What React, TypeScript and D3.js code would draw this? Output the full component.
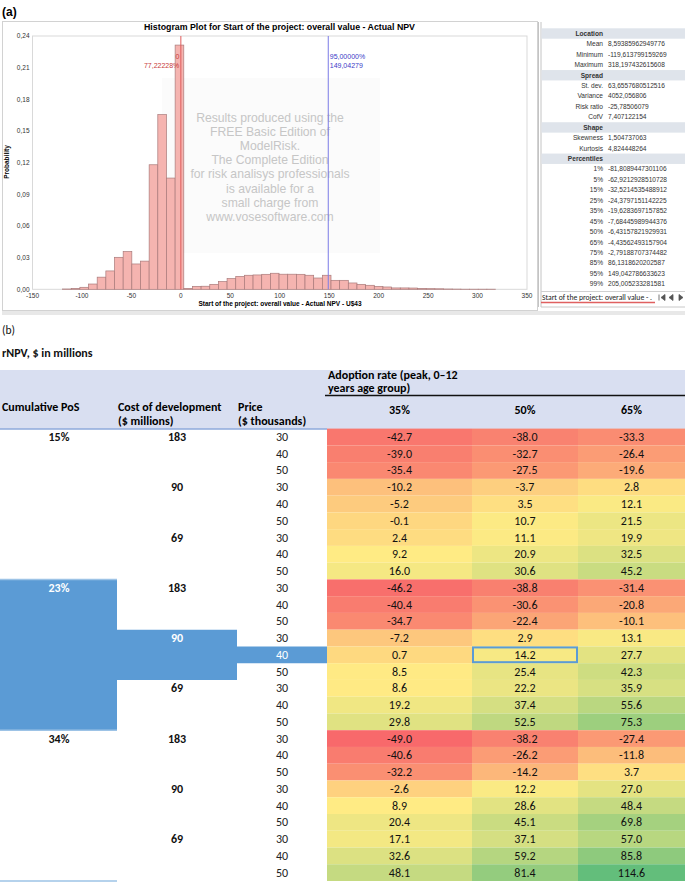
import React from 'react';
import * as d3 from 'd3';

// ---------- (a) histogram data ----------
const binStarts = [-119.61, -110.86, -102.10, -93.35, -84.59, -75.83, -67.08, -58.32, -49.57, -40.81,
  -32.05, -23.30, -14.54, -5.79, 2.97, 11.73, 20.48, 29.24, 37.99, 46.75,
  55.51, 64.26, 73.02, 81.77, 90.53, 99.29, 108.04, 116.80, 125.55, 134.31,
  143.07, 151.82, 160.58, 169.33, 178.09, 186.85, 195.60, 204.36, 213.11, 221.87,
  230.63, 239.38, 248.14, 256.89, 265.65, 274.41, 283.16, 291.92, 300.67, 309.43];
const binEnd = 318.2;
const binProbs = [0.0003, 0.0008, 0.0019, 0.005, 0.0115, 0.0174, 0.0303, 0.0357, 0.024, 0.0267,
  0.118, 0.1655, 0.1054, 0.2314, 0.0008, 0.0028, 0.0029, 0.0047, 0.0073, 0.0101,
  0.0122, 0.0133, 0.0136, 0.0142, 0.0152, 0.0143, 0.0143, 0.0142, 0.0133, 0.0107,
  0.0133, 0.0085, 0.0085, 0.006, 0.0047, 0.0038, 0.0028, 0.0022, 0.0013, 0.0013,
  0.0012, 0.0008, 0.0006, 0.0005, 0.0003, 0.0002, 0.0001, 0.0001, 0.0001, 0.0001];
const xTicks = [-150, -100, -50, 0, 50, 100, 150, 200, 250, 300, 350];
const yTicks = [0, 0.03, 0.06, 0.09, 0.12, 0.15, 0.18, 0.21, 0.24];
const lowMarker = { value: 0, label: '0', pct: '77,22228%' };
const highMarker = { value: 149.04279, label: '149,04279', pct: '95,00000%' };
const histTitle = 'Histogram Plot for Start of the project: overall value - Actual NPV';
const histXLabel = 'Start of the project: overall value - Actual NPV - U$43';
const watermark = ['Results produced using the', 'FREE Basic Edition of', 'ModelRisk.', 'The Complete Edition',
  'for risk analisys professionals', 'is available for a', 'small charge from', 'www.vosesoftware.com'];

const locationStats = [['Mean', '8,59385962949776'], ['Minimum', '-119,613799159269'], ['Maximum', '318,197432615608']];
const spreadStats = [['St. dev.', '63,6557680512516'], ['Variance', '4052,056806'], ['Risk ratio', '-25,78506079'], ['CofV', '7,407122154']];
const shapeStats = [['Skewness', '1,504737063'], ['Kurtosis', '4,824448264']];
const percentileStats = [['1%', '-81,8089447301106'], ['5%', '-62,9212928510728'], ['15%', '-32,5214535488912'],
  ['25%', '-24,3797151142225'], ['35%', '-19,6283697157852'], ['45%', '-7,68445989944376'], ['50%', '-6,43157821929931'],
  ['65%', '-4,43562493157904'], ['75%', '-2,79188707374482'], ['85%', '86,1318620202587'], ['95%', '149,042786633623'],
  ['99%', '205,005233281581']];
const statSections: [string, string[][]][] = [['Location', locationStats], ['Spread', spreadStats], ['Shape', shapeStats], ['Percentiles', percentileStats]];

// ---------- (b) table data ----------
const posGroups = ['15%', '23%', '34%'];
const costs = ['183', '90', '69'];
const prices = ['30', '40', '50'];
const adoption = ['35%', '50%', '65%'];
const rnpv15 = [[-42.7, -38.0, -33.3], [-39.0, -32.7, -26.4], [-35.4, -27.5, -19.6],
  [-10.2, -3.7, 2.8], [-5.2, 3.5, 12.1], [-0.1, 10.7, 21.5],
  [2.4, 11.1, 19.9], [9.2, 20.9, 32.5], [16.0, 30.6, 45.2]];
const rnpv23 = [[-46.2, -38.8, -31.4], [-40.4, -30.6, -20.8], [-34.7, -22.4, -10.1],
  [-7.2, 2.9, 13.1], [0.7, 14.2, 27.7], [8.5, 25.4, 42.3],
  [8.6, 22.2, 35.9], [19.2, 37.4, 55.6], [29.8, 52.5, 75.3]];
const rnpv34 = [[-49.0, -38.2, -27.4], [-40.6, -26.2, -11.8], [-32.2, -14.2, 3.7],
  [-2.6, 12.2, 27.0], [8.9, 28.6, 48.4], [20.4, 45.1, 69.8],
  [17.1, 37.1, 57.0], [32.6, 59.2, 85.8], [48.1, 81.4, 114.6]];
const rnpvGroups = [rnpv15, rnpv23, rnpv34];
const highlight = { group: 1, cost: 1, price: 1, col: 1 };

const arial = "'Liberation Sans', Arial, sans-serif";
const calibri = "Carlito, Calibri, Lato, sans-serif";
const comma = (v: number) => d3.format('.2f')(v).replace('.', ',');

function Histogram() {
  const x = d3.scaleLinear().domain([-150, 350]).range([32.5, 527]);
  const y = d3.scaleLinear().domain([0, 0.24]).range([289.3, 36]);
  const bins = binStarts.map((s, i) => ({ x0: s, x1: i + 1 < binStarts.length ? binStarts[i + 1] : binEnd, p: binProbs[i] }));
  const statY = d3.scaleLinear().domain([0, 24]).range([33.5, 284]);
  const rows: { label: string; value?: string; header: boolean }[] = [];
  statSections.forEach(([h, list]) => {
    rows.push({ label: h, header: true });
    list.forEach(([l, v]) => rows.push({ label: l, value: v, header: false }));
  });
  return (
    <g>
      <text x={2} y={16} fontFamily={arial} fontWeight="bold" fontSize={12}>(a)</text>
      <rect x={2.5} y={21.5} width={535} height={289} fill="#fff" stroke="#d2d2d2" />
      <rect x={2} y={311} width={683} height={4} fill="#e8e8e8" />
      <text x={279.5} y={30} textAnchor="middle" fontFamily={arial} fontWeight="bold" fontSize={8.8}>{histTitle}</text>
      <rect x={32.5} y={36} width={494.5} height={253.3} fill="#fff" stroke="#d9d9d9" />
      <rect x={162} y={78} width={218} height={175} fill="#fbfbfb" />
      {watermark.map((t, i) => (
        <text key={i} x={270} y={122 + i * 14.1} textAnchor="middle" fontFamily={arial} fontSize={12.2} fill="#c6c6c6">{t}</text>
      ))}
      {bins.map((b, i) => (
        <rect key={i} x={x(b.x0)} y={y(b.p)} width={x(b.x1) - x(b.x0)} height={y(0) - y(b.p)}
          fill="#f5b4b0" stroke="#a97a7a" strokeWidth={0.7} />
      ))}
      <line x1={x(lowMarker.value)} x2={x(lowMarker.value)} y1={36} y2={289.3} stroke="#e05a5a" strokeWidth={1} />
      <text x={x(lowMarker.value) - 1.5} y={59} textAnchor="end" fontFamily={arial} fontSize={7} fill="#c83b3b">{lowMarker.label}</text>
      <text x={x(lowMarker.value) - 1.5} y={68} textAnchor="end" fontFamily={arial} fontSize={7} fill="#c83b3b">{lowMarker.pct}</text>
      <line x1={x(highMarker.value)} x2={x(highMarker.value)} y1={36} y2={289.3} stroke="#7b7be6" strokeWidth={1} />
      <text x={x(highMarker.value) + 1.5} y={59} fontFamily={arial} fontSize={7} fill="#3b3bc8">{highMarker.pct}</text>
      <text x={x(highMarker.value) + 1.5} y={68} fontFamily={arial} fontSize={7} fill="#3b3bc8">{highMarker.label}</text>
      {yTicks.map((t) => (
        <text key={t} x={29.5} y={y(t) + 2.3} textAnchor="end" fontFamily={arial} fontSize={6.5} fill="#333">{comma(t)}</text>
      ))}
      {xTicks.map((t) => (
        <text key={t} x={x(t)} y={298} textAnchor="middle" fontFamily={arial} fontSize={6.5} fill="#333">{t}</text>
      ))}
      <text transform="translate(9,162) rotate(-90)" textAnchor="middle" fontFamily={arial} fontWeight="bold" fontSize={6.5}>Probability</text>
      <text x={280} y={306} textAnchor="middle" fontFamily={arial} fontWeight="bold" fontSize={6.5}>{histXLabel}</text>
      {/* stats panel */}
      <rect x={538} y={21.5} width={147} height={286} fill="#fff" />
      <line x1={538.5} x2={538.5} y1={22} y2={307} stroke="#c4c4c4" />
      <line x1={541} x2={541} y1={22} y2={307} stroke="#c4c4c4" />
      {rows.map((r, i) => (
        <g key={i}>
          {r.header && <rect x={541.5} y={statY(i) - 5.2} width={143.5} height={10.4} fill="#dfe4eb" />}
          <text x={603} y={statY(i) + 2.3} textAnchor="end" fontFamily={arial} fontSize={6.6} fontWeight={r.header ? 'bold' : 'normal'} fill="#333">{r.label}</text>
          {r.value && <text x={608} y={statY(i) + 2.3} fontFamily={arial} fontSize={6.6} fill="#333">{r.value}</text>}
        </g>
      ))}
      <line x1={541} x2={685} y1={291.5} y2={291.5} stroke="#d0d0d0" />
      <text x={542} y={299.5} fontFamily={calibri} fontSize={8.2} fill="#222" textLength={110} lengthAdjust="spacingAndGlyphs">Start of the project: overall value - .</text>
      <line x1={541} x2={655} y1={302.5} y2={302.5} stroke="#e06060" strokeWidth={1.3} />
      <line x1={541} x2={685} y1={307} y2={307} stroke="#c8c8c8" />
      <path d="M659,294.5 v6 M665,294.5 l-4,3 l4,3 z M673,294.5 l-4,3 l4,3 z M679,294.5 l4,3 l-4,3 z" stroke="#555" strokeWidth={0.8} fill="#555" />
    </g>
  );
}

function Table() {
  const all = rnpvGroups.flat(2);
  const color = d3.scaleLinear<string>()
    .domain([d3.min(all)!, d3.quantile(all, 0.5)!, d3.max(all)!])
    .range(['#F8696B', '#FFEB84', '#63BE7B'])
    .interpolate(d3.interpolateRgb);
  const rowIdx = d3.range(27);
  const yb = d3.scaleBand<number>().domain(rowIdx).range([428.6, 881]);
  const bw = yb.bandwidth();
  const colEdges = [327, 472, 578, 685];
  const cx = (c: number) => (colEdges[c] + colEdges[c + 1]) / 2;
  const bold = 'bold';
  const r = (g: number, c: number, p: number) => g * 9 + c * 3 + p;
  const hg = highlight.group;
  const t0 = yb(r(hg, 0, 0))!;
  const t1 = yb(r(hg, 1, 0))!;
  const t2 = yb(r(hg, 1, 1))!;
  const b2 = t2 + bw;
  const b1 = yb(r(hg, 1, 2))! + bw;
  const b0 = yb(r(hg, 2, 2))! + bw;
  const blockPath = `M0,${t0} H117 V${t1} H237 V${t2} H327 V${b2} H237 V${b1} H117 V${b0} H0 Z`;
  const items: JSX.Element[] = [];
  rnpvGroups.forEach((grp, g) => {
    grp.forEach((vals, k) => {
      const c = Math.floor(k / 3);
      const p = k % 3;
      const i = r(g, c, p);
      const yy = yb(i)!;
      const mid = yy + bw / 2 + 4;
      const inBlock = g === hg;
      vals.forEach((v, j) => {
        items.push(<rect key={`c${i}-${j}`} x={colEdges[j]} y={yy} width={colEdges[j + 1] - colEdges[j]} height={bw} fill={color(v)} />);
        items.push(<text key={`t${i}-${j}`} x={cx(j)} y={mid} textAnchor="middle" fontFamily={calibri} fontSize={12} fill="#111">{v.toFixed(1)}</text>);
      });
      const priceWhite = inBlock && c === highlight.cost && p === highlight.price;
      items.push(<text key={`p${i}`} x={282} y={mid} textAnchor="middle" fontFamily={calibri} fontSize={12} fill={priceWhite ? '#fff' : '#222'}>{prices[p]}</text>);
      if (p === 0) {
        items.push(<text key={`k${i}`} x={177} y={mid} textAnchor="middle" fontFamily={calibri} fontSize={12} fontWeight={bold} fill={inBlock && c === highlight.cost ? '#fff' : '#111'}>{costs[c]}</text>);
      }
      if (k === 0) {
        items.push(<text key={`g${i}`} x={59} y={mid} textAnchor="middle" fontFamily={calibri} fontSize={12} fontWeight={bold} fill={inBlock ? '#fff' : '#111'}>{posGroups[g]}</text>);
      }
    });
  });
  const hy = yb(r(hg, highlight.cost, highlight.price))!;
  return (
    <g>
      <text x={2} y={334} fontFamily={calibri} fontSize={11.5} fill="#111">(b)</text>
      <text x={2} y={357} fontFamily={calibri} fontSize={12} fontWeight={bold} fill="#111">rNPV, $ in millions</text>
      <rect x={0} y={370} width={685} height={59} fill="#d9dff1" />
      <text x={328} y={379} fontFamily={calibri} fontSize={12} fontWeight={bold}>Adoption rate (peak,  0–12</text>
      <text x={328} y={392} fontFamily={calibri} fontSize={12} fontWeight={bold}>years age group)</text>
      <line x1={325} x2={685} y1={395.5} y2={395.5} stroke="#111" strokeWidth={1.3} />
      <text x={2} y={411} fontFamily={calibri} fontSize={12} fontWeight={bold}>Cumulative PoS</text>
      <text x={118} y={411} fontFamily={calibri} fontSize={12} fontWeight={bold}>Cost of development</text>
      <text x={118} y={425} fontFamily={calibri} fontSize={12} fontWeight={bold}>($ millions)</text>
      <text x={238} y={411} fontFamily={calibri} fontSize={12} fontWeight={bold}>Price</text>
      <text x={238} y={425} fontFamily={calibri} fontSize={12} fontWeight={bold}>($ thousands)</text>
      {adoption.map((a, j) => (
        <text key={a} x={cx(j)} y={414} textAnchor="middle" fontFamily={calibri} fontSize={12} fontWeight={bold}>{a}</text>
      ))}
      <line x1={0} x2={327} y1={429} y2={429} stroke="#8eaadb" strokeWidth={1.5} />
      <path d={blockPath} fill="#5b9bd5" />
      {items}
      <rect x={colEdges[highlight.col] + 1} y={hy + 1} width={colEdges[highlight.col + 1] - colEdges[highlight.col] - 2} height={bw - 2} fill="none" stroke="#5b9bd5" strokeWidth={2} />
      {posGroups.map((_, g) => (
        <line key={g} x1={0} x2={117} y1={yb(r(g, 2, 2))! + bw} y2={yb(r(g, 2, 2))! + bw} stroke="#9dc3e6" strokeWidth={1.5} />
      ))}
    </g>
  );
}

export default function App() {
  return (
    <svg width={685} height={883} style={{ position: 'absolute', left: 0, top: 0, background: '#fff' }}>
      <rect width={685} height={883} fill="#fff" />
      <Histogram />
      <Table />
    </svg>
  );
}
